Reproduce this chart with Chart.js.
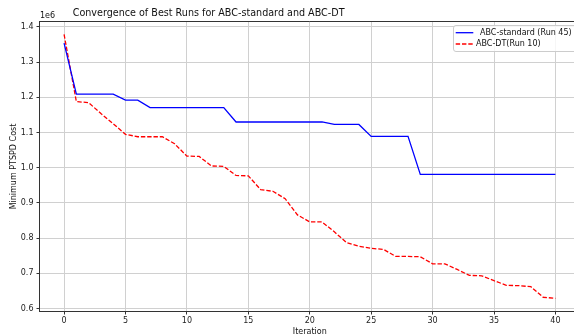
<!DOCTYPE html>
<html>
<head>
<meta charset="utf-8">
<script src="https://cdn.jsdelivr.net/npm/chart.js@4.4.1/dist/chart.umd.min.js"></script>
<style>
  html, body { margin: 0; padding: 0; background: #fff; }
  #wrap { width: 574px; height: 336px; overflow: hidden; position: relative; }
  #wrap canvas { position: absolute; left: 0; top: 0; }
</style>
</head>
<body>
<div id="wrap"><canvas id="convChart" width="584" height="336"></canvas></div>
<script>
// iterations and best cost per run
const iterations = [0, 1, 2, 3, 4, 5, 6, 7, 8, 9, 10, 11, 12, 13, 14, 15, 16, 17, 18, 19, 20,
    21, 22, 23, 24, 25, 26, 27, 28, 29, 30, 31, 32, 33, 34, 35, 36, 37, 38, 39, 40];

const abcStandard = [1354000, 1209000, 1209000, 1209000, 1209000, 1192000, 1192000, 1171000, 1171000, 1171000,
    1171000, 1171000, 1171000, 1171000, 1130000, 1130000, 1130000, 1130000, 1130000, 1130000,
    1130000, 1130000, 1123000, 1123000, 1123000, 1089000, 1089000, 1089000, 1089000, 981000,
    981000, 981000, 981000, 981000, 981000, 981000, 981000, 981000, 981000, 981000, 981000];

const abcDT = [1379000, 1188000, 1185000, 1154000, 1125000, 1095000, 1088000, 1088000, 1088000, 1068000,
    1033000, 1032000, 1005000, 1004000, 978000, 977000, 938000, 933000, 912000, 866000,
    846000, 846000, 818000, 787000, 777000, 771000, 768000, 748000, 748000, 747000,
    727000, 727000, 711000, 694000, 693000, 679000, 666000, 665000, 662000, 632000, 629000];

const xTicks = [0, 5, 10, 15, 20, 25, 30, 35, 40];
const yTicks = [600000, 700000, 800000, 900000, 1000000, 1100000, 1200000, 1300000, 1400000];

const FONT = '"DejaVu Sans", sans-serif';

// matplotlib-ish decorations: title, top spine, axis labels, offset text, legend
const decorPlugin = {
    id: 'decor',
    afterDraw(chart) {
        const { ctx, chartArea: a } = chart;
        ctx.save();

        // top spine
        ctx.strokeStyle = '#333';
        ctx.lineWidth = 1;
        ctx.beginPath();
        ctx.moveTo(a.left, a.top);
        ctx.lineTo(a.right, a.top);
        ctx.stroke();

        ctx.fillStyle = '#111';
        ctx.textBaseline = 'middle';

        ctx.font = '9.6px ' + FONT;
        ctx.textAlign = 'left';
        ctx.fillText('Convergence of Best Runs for ABC-standard and ABC-DT', 72.7, 13.3);

        ctx.font = '8px ' + FONT;
        ctx.fillText('1e6', 40, 15.7);

        ctx.textAlign = 'center';
        ctx.fillText('Iteration', (a.left + a.right) / 2, 331.5);

        ctx.save();
        ctx.translate(13.6, (a.top + a.bottom) / 2);
        ctx.rotate(-Math.PI / 2);
        ctx.fillText('Minimum PTSPD Cost', 0, 0);
        ctx.restore();

        // legend box
        ctx.beginPath();
        ctx.roundRect(453.5, 25.5, 140, 26, 2.5);
        ctx.fillStyle = 'rgba(255,255,255,0.8)';
        ctx.fill();
        ctx.strokeStyle = '#cccccc';
        ctx.stroke();

        ctx.lineWidth = 1.3;
        ctx.strokeStyle = '#0000ff';
        ctx.beginPath();
        ctx.moveTo(455.7, 32.7);
        ctx.lineTo(473.3, 32.7);
        ctx.stroke();

        ctx.strokeStyle = '#ff0000';
        ctx.setLineDash([4.4, 1.9]);
        ctx.beginPath();
        ctx.moveTo(455.7, 44);
        ctx.lineTo(473.3, 44);
        ctx.stroke();
        ctx.setLineDash([]);

        ctx.fillStyle = '#111';
        ctx.textAlign = 'left';
        ctx.fillText('ABC-standard (Run 45)', 480, 32.7);
        ctx.fillText('ABC-DT(Run 10)', 476, 44);

        ctx.restore();
    }
};

const ctx = document.getElementById('convChart').getContext('2d');
new Chart(ctx, {
    type: 'line',
    data: {
        datasets: [
            {
                label: 'ABC-standard (Run 45)',
                data: iterations.map((it, i) => ({ x: it, y: abcStandard[i] })),
                borderColor: '#0000ff',
                borderWidth: 1.3,
                pointRadius: 0,
                tension: 0,
                fill: false
            },
            {
                label: 'ABC-DT(Run 10)',
                data: iterations.map((it, i) => ({ x: it, y: abcDT[i] })),
                borderColor: '#ff0000',
                borderWidth: 1.3,
                borderDash: [4.4, 1.9],
                pointRadius: 0,
                tension: 0,
                fill: false
            }
        ]
    },
    options: {
        responsive: false,
        animation: false,
        devicePixelRatio: 1,
        layout: { padding: { top: 21.5, right: 4, bottom: 0, left: 0 } },
        plugins: {
            legend: { display: false },
            title: { display: false },
            tooltip: { enabled: false }
        },
        scales: {
            x: {
                type: 'linear',
                min: -2,
                max: 42,
                afterBuildTicks: axis => { axis.ticks = xTicks.map(v => ({ value: v })); },
                afterFit: axis => { axis.height = 24.5; },
                grid: { color: '#d0d0d0', lineWidth: 1, tickLength: 3, tickColor: '#333' },
                border: { color: '#333', width: 1 },
                ticks: { font: { family: FONT, size: 8 }, color: '#222', padding: 2, maxRotation: 0, autoSkip: false }
            },
            y: {
                type: 'linear',
                min: 591500,
                max: 1415500,
                afterBuildTicks: axis => { axis.ticks = yTicks.map(v => ({ value: v })); },
                afterFit: axis => { axis.width = 39.5; },
                grid: { color: '#d0d0d0', lineWidth: 1, tickLength: 3, tickColor: '#333' },
                border: { color: '#333', width: 1 },
                ticks: {
                    font: { family: FONT, size: 8 },
                    color: '#222',
                    padding: 3,
                    autoSkip: false,
                    callback: v => (v / 1e6).toFixed(1)
                }
            }
        }
    },
    plugins: [decorPlugin]
});
</script>
</body>
</html>
